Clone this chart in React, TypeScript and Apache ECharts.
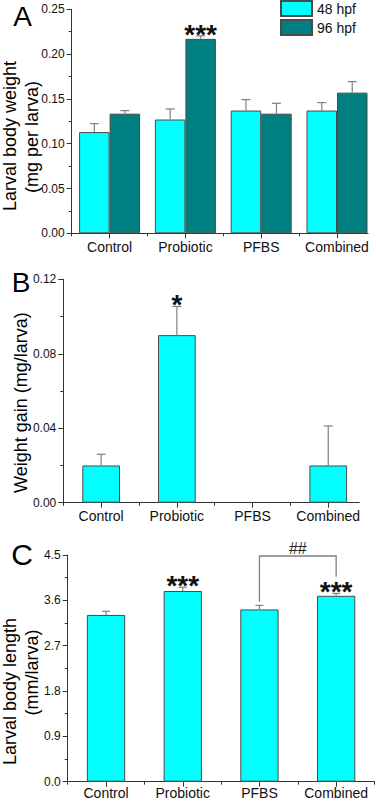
import React, { useEffect, useRef } from 'react';
import * as echarts from 'echarts';

const categories = ['Control', 'Probiotic', 'PFBS', 'Combined'];
const seriesNames = ['48 hpf', '96 hpf'];

// Panel A: larval body weight (mg per larva)
const weight48 = [0.113, 0.127, 0.137, 0.137];
const weight48Err = [0.0094, 0.0118, 0.0122, 0.0089];
const weight96 = [0.1335, 0.217, 0.1335, 0.157];
const weight96Err = [0.0034, 0.0033, 0.0116, 0.0123];
const sig48 = ['', '', '', ''];
const sig96 = ['', '***', '', ''];
const ticksA = [0, 0.05, 0.1, 0.15, 0.2, 0.25];

// Panel B: weight gain (mg/larva)
const gain = [0.02, 0.09, 0, 0.02];
const gainErr = [0.006, 0.0154, 0, 0.0212];
const sigGain = ['', '*', '', ''];
const ticksB = [0, 0.04, 0.08, 0.12];

// Panel C: larval body length (mm/larva)
const lengthMean = [3.31, 3.785, 3.42, 3.69];
const lengthErr = [0.073, 0.074, 0.079, 0.047];
const sigLength = ['', '***', '', '***'];
const ticksC = [0, 0.9, 1.8, 2.7, 3.6, 4.5];
// bracket PFBS -> Combined: [x from, x to], [left end, top, right end]
const bracketX = [3, 4];
const bracketY = [3.57, 4.48, 4.07];
const bracketLabel = '##';

const FONT = '"Liberation Sans", Arial, Helvetica, sans-serif';
const AXIS_COLOR = '#333333';
const ERR_COLOR = '#808080';
const CYAN = '#00FFFF';
const TEAL = '#008080';
const BAR_BORDER = '#4a4a4a';

const centers = categories.map((_, i) => i + 1);

function errRender(offsetPx: number, capHalf: number, sig: string[]) {
  return (params: any, api: any) => {
    const x = api.value(0);
    const m = api.value(1);
    const e = api.value(2);
    const base = api.coord([x, m]);
    const top = api.coord([x, m + e]);
    const cx = base[0] + offsetPx;
    const children: any[] = [];
    if (e > 0) {
      children.push({
        type: 'line',
        shape: { x1: cx, y1: base[1], x2: cx, y2: top[1] },
        style: { stroke: ERR_COLOR, lineWidth: 1.2 },
      });
      children.push({
        type: 'line',
        shape: { x1: cx - capHalf, y1: top[1], x2: cx + capHalf, y2: top[1] },
        style: { stroke: ERR_COLOR, lineWidth: 1.2 },
      });
    }
    const s = sig[params.dataIndex];
    if (s) {
      children.push({
        type: 'text',
        x: cx,
        y: top[1] - 1.5,
        style: {
          text: s,
          fill: '#111111',
          font: `bold 28px ${FONT}`,
          textAlign: 'center',
          textVerticalAlign: 'middle',
        },
      });
    }
    return { type: 'group', children };
  };
}

function bracketRender(params: any, api: any) {
  const x1 = api.value(0);
  const x2 = api.value(1);
  const yl = api.value(2);
  const yt = api.value(3);
  const yr = api.value(4);
  const p1 = api.coord([x1, yl]);
  const p2 = api.coord([x1, yt]);
  const p3 = api.coord([x2, yt]);
  const p4 = api.coord([x2, yr]);
  return {
    type: 'group',
    children: [
      {
        type: 'polyline',
        shape: { points: [p1, p2, p3, p4] },
        style: { stroke: ERR_COLOR, lineWidth: 1.3, fill: 'none' },
      },
      {
        type: 'text',
        x: (p2[0] + p3[0]) / 2,
        y: p2[1] - 8,
        style: {
          text: bracketLabel,
          fill: '#222222',
          font: `16px ${FONT}`,
          textAlign: 'center',
          textVerticalAlign: 'middle',
        },
      },
    ],
  };
}

function yAxisFor(gridIndex: number, ticks: number[], digits: number) {
  return {
    type: 'value',
    gridIndex,
    min: ticks[0],
    max: ticks[ticks.length - 1],
    interval: ticks[1] - ticks[0],
    axisLine: { show: true, lineStyle: { color: AXIS_COLOR, width: 1 } },
    axisTick: { show: true, inside: false, length: 5, lineStyle: { color: AXIS_COLOR, width: 1 } },
    minorTick: { show: true, splitNumber: 2, length: 3, lineStyle: { color: AXIS_COLOR, width: 1 } },
    splitLine: { show: false },
    minorSplitLine: { show: false },
    axisLabel: {
      margin: 7,
      color: '#111111',
      fontSize: 12,
      fontFamily: FONT,
      formatter: (v: number) => v.toFixed(digits),
    },
  };
}

function xAxesFor(gridIndex: number, max: number, margin: number, boundaries: number[]) {
  return [
    {
      type: 'value',
      gridIndex,
      min: 0.5,
      max,
      axisLine: { show: true, onZero: false, lineStyle: { color: AXIS_COLOR, width: 1 } },
      axisTick: { show: true, inside: false, length: 5, customValues: centers, lineStyle: { color: AXIS_COLOR, width: 1 } },
      splitLine: { show: false },
      axisLabel: {
        customValues: centers,
        margin,
        color: '#111111',
        fontSize: 14,
        fontFamily: FONT,
        formatter: (v: number) => categories[Math.round(v) - 1] ?? '',
      },
    },
    {
      type: 'value',
      gridIndex,
      min: 0.5,
      max,
      position: 'bottom',
      axisLine: { show: false, onZero: false },
      axisTick: { show: true, inside: false, length: 3, customValues: boundaries, lineStyle: { color: AXIS_COLOR, width: 1 } },
      splitLine: { show: false },
      axisLabel: { show: false },
    },
  ];
}

export default function App() {
  const ref = useRef<HTMLDivElement>(null);

  useEffect(() => {
    if (!ref.current) return;
    const chart = echarts.init(ref.current, null, { renderer: 'svg' });

    const unitA = 75.8;
    const unitB = 75.7;
    const unitC = 76.7;
    const maxA = 4.41;
    const maxB = 4.41;
    const maxC = 4.5;

    const option: any = {
      animation: false,
      backgroundColor: '#ffffff',
      textStyle: { fontFamily: FONT },
      grid: [
        { left: 71.7, top: 9.3, width: (maxA - 0.5) * unitA, height: 224, outerBoundsMode: 'none' },
        { left: 63.3, top: 279.3, width: (maxB - 0.5) * unitB, height: 223.4, outerBoundsMode: 'none' },
        { left: 67.7, top: 555, width: (maxC - 0.5) * unitC, height: 226.7, outerBoundsMode: 'none' },
      ],
      legend: {
        data: seriesNames,
        orient: 'vertical',
        left: 280,
        top: 0,
        padding: 0,
        itemWidth: 31,
        itemHeight: 15,
        itemGap: 2,
        icon: 'rect',
        textStyle: { fontSize: 14, fontFamily: FONT, color: '#111111', lineHeight: 15 },
        selectedMode: false,
      },
      xAxis: [
        ...xAxesFor(0, maxA, 7, [0.5, 1.5, 2.5, 3.5]),
        ...xAxesFor(1, maxB, 6, [0.5, 1.5, 2.5, 3.5]),
        ...xAxesFor(2, maxC, 4, [0.5, 1.5, 2.5, 3.5, 4.5]),
      ],
      yAxis: [yAxisFor(0, ticksA, 2), yAxisFor(1, ticksB, 2), yAxisFor(2, ticksC, 1)],
      series: [
        {
          type: 'bar',
          name: seriesNames[0],
          xAxisIndex: 0,
          yAxisIndex: 0,
          barWidth: 30.5,
          barGap: '0%',
          data: weight48.map((v, i) => [i + 1, v]),
          itemStyle: { color: CYAN, borderColor: BAR_BORDER, borderWidth: 1 },
        },
        {
          type: 'bar',
          name: seriesNames[1],
          xAxisIndex: 0,
          yAxisIndex: 0,
          barWidth: 30.5,
          barGap: '0%',
          data: weight96.map((v, i) => [i + 1, v]),
          itemStyle: { color: TEAL, borderColor: BAR_BORDER, borderWidth: 1 },
        },
        {
          type: 'custom',
          name: 'err48',
          xAxisIndex: 0,
          yAxisIndex: 0,
          clip: false,
          z: 5,
          encode: { x: 0, y: 1 },
          data: weight48.map((v, i) => [i + 1, v, weight48Err[i]]),
          renderItem: errRender(-15.25, 4.5, sig48),
        },
        {
          type: 'custom',
          name: 'err96',
          xAxisIndex: 0,
          yAxisIndex: 0,
          clip: false,
          z: 5,
          encode: { x: 0, y: 1 },
          data: weight96.map((v, i) => [i + 1, v, weight96Err[i]]),
          renderItem: errRender(15.25, 4.5, sig96),
        },
        {
          type: 'bar',
          name: 'Weight gain',
          xAxisIndex: 2,
          yAxisIndex: 1,
          barWidth: 37.7,
          data: gain.map((v, i) => [i + 1, v === 0 ? '-' : v]),
          itemStyle: { color: CYAN, borderColor: BAR_BORDER, borderWidth: 1 },
        },
        {
          type: 'custom',
          name: 'errGain',
          xAxisIndex: 2,
          yAxisIndex: 1,
          clip: false,
          z: 5,
          encode: { x: 0, y: 1 },
          data: gain.map((v, i) => [i + 1, v, gainErr[i]]),
          renderItem: errRender(0, 4.5, sigGain),
        },
        {
          type: 'bar',
          name: 'Body length',
          xAxisIndex: 4,
          yAxisIndex: 2,
          barWidth: 38.3,
          data: lengthMean.map((v, i) => [i + 1, v]),
          itemStyle: { color: CYAN, borderColor: BAR_BORDER, borderWidth: 1 },
        },
        {
          type: 'custom',
          name: 'errLength',
          xAxisIndex: 4,
          yAxisIndex: 2,
          clip: false,
          z: 5,
          encode: { x: 0, y: 1 },
          data: lengthMean.map((v, i) => [i + 1, v, lengthErr[i]]),
          renderItem: errRender(0, 4, sigLength),
        },
        {
          type: 'custom',
          name: 'bracket',
          xAxisIndex: 4,
          yAxisIndex: 2,
          clip: false,
          z: 5,
          encode: { x: 0, y: 3 },
          data: [[bracketX[0], bracketX[1], bracketY[0], bracketY[1], bracketY[2]]],
          renderItem: bracketRender,
        },
      ],
      graphic: [
        { type: 'text', x: 22.5, y: 16.5, style: { text: 'A', font: `28px ${FONT}`, fill: '#000', textAlign: 'center', textVerticalAlign: 'middle' } },
        { type: 'text', x: 21, y: 282.5, style: { text: 'B', font: `28px ${FONT}`, fill: '#000', textAlign: 'center', textVerticalAlign: 'middle' } },
        { type: 'text', x: 22, y: 554.5, style: { text: 'C', font: `30px ${FONT}`, fill: '#000', textAlign: 'center', textVerticalAlign: 'middle' } },
        { type: 'text', x: 10, y: 136, rotation: Math.PI / 2, style: { text: 'Larval body weight', font: `18px ${FONT}`, fill: '#000', textAlign: 'center', textVerticalAlign: 'middle' } },
        { type: 'text', x: 31.5, y: 137, rotation: Math.PI / 2, style: { text: '(mg per larva)', font: `18px ${FONT}`, fill: '#000', textAlign: 'center', textVerticalAlign: 'middle' } },
        { type: 'text', x: 20.5, y: 402.5, rotation: Math.PI / 2, style: { text: 'Weight gain (mg/larva)', font: `18px ${FONT}`, fill: '#000', textAlign: 'center', textVerticalAlign: 'middle' } },
        { type: 'text', x: 9.5, y: 691.5, rotation: Math.PI / 2, style: { text: 'Larval body length', font: `18px ${FONT}`, fill: '#000', textAlign: 'center', textVerticalAlign: 'middle' } },
        { type: 'text', x: 32, y: 672.5, rotation: Math.PI / 2, style: { text: '(mm/larva)', font: `18px ${FONT}`, fill: '#000', textAlign: 'center', textVerticalAlign: 'middle' } },
      ],
    };

    chart.setOption(option);
    return () => chart.dispose();
  }, []);

  return (
    <div
      ref={ref}
      style={{ position: 'fixed', left: 0, top: 0, width: 376, height: 801, background: '#fff' }}
    />
  );
}
